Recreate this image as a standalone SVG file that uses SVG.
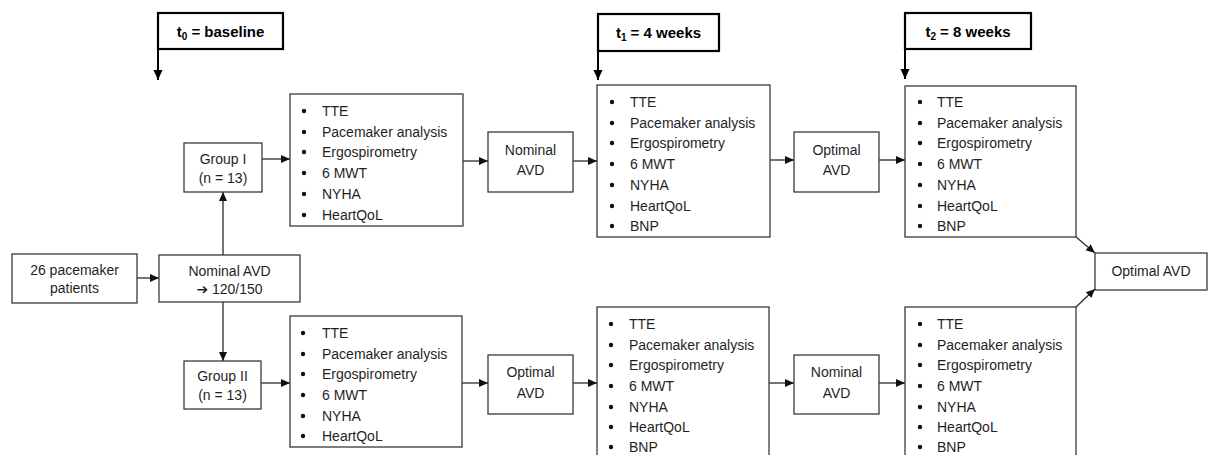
<svg xmlns="http://www.w3.org/2000/svg" width="1208" height="455" viewBox="0 0 1208 455">
<style>
  .box { fill: #ffffff; stroke: #3a3a3a; stroke-width: 1.3; }
  .hdr { fill: #ffffff; stroke: #000000; stroke-width: 2.2; }
  .t { font-family: "Liberation Sans", Arial, sans-serif; font-size: 14px; fill: #1f1f1f; }
  .c { text-anchor: middle; }
  .h { font-family: "Liberation Sans", Arial, sans-serif; font-size: 15px; font-weight: bold; fill: #000; text-anchor: middle; }
  .sub { font-size: 10px; }
  .sym { font-family: "DejaVu Sans", sans-serif; font-size: 14px; }
  .dot { fill: #111; }
  .con { stroke: #2a2a2a; stroke-width: 1.3; fill: none; marker-end: url(#arr); }
  .hcon { stroke: #000; stroke-width: 2; fill: none; marker-end: url(#arrh); }
</style>
<defs>
  <marker id="arr" markerUnits="userSpaceOnUse" markerWidth="9" markerHeight="9" refX="9" refY="4.5" orient="auto">
    <path d="M0,0.5 L9,4.5 L0,8.5 z" fill="#111"/>
  </marker>
  <marker id="arrh" markerUnits="userSpaceOnUse" markerWidth="10" markerHeight="10" refX="10" refY="5" orient="auto">
    <path d="M0,0.5 L10,5 L0,9.5 z" fill="#000"/>
  </marker>
</defs>
<rect width="1208" height="455" fill="#ffffff"/>

<g id="connectors">
  <line class="hcon" x1="158" y1="49" x2="158" y2="80"/>
  <line class="hcon" x1="598" y1="51" x2="598" y2="80"/>
  <line class="hcon" x1="905" y1="49" x2="905" y2="79"/>
  <line class="con" x1="137" y1="278" x2="159" y2="278"/>
  <line class="con" x1="223" y1="255" x2="223" y2="192"/>
  <line class="con" x1="223" y1="302" x2="223" y2="361"/>
  <line class="con" x1="262" y1="159" x2="290" y2="159"/>
  <line class="con" x1="261" y1="383" x2="290" y2="383"/>
  <line class="con" x1="463" y1="161" x2="488" y2="161"/>
  <line class="con" x1="573" y1="161" x2="597" y2="161"/>
  <line class="con" x1="770" y1="160" x2="794" y2="160"/>
  <line class="con" x1="879" y1="160" x2="905" y2="160"/>
  <line class="con" x1="462" y1="383" x2="488" y2="383"/>
  <line class="con" x1="573" y1="383" x2="597" y2="383"/>
  <line class="con" x1="769" y1="383" x2="794" y2="383"/>
  <line class="con" x1="879" y1="383" x2="905" y2="383"/>
  <line class="con" x1="1076" y1="237" x2="1095" y2="253"/>
  <line class="con" x1="1076" y1="307" x2="1095" y2="289"/>
</g>

<g id="hdr-t0">
  <rect class="hdr" x="158" y="13" width="125" height="36"/>
  <text class="h" x="220.5" y="37">t<tspan class="sub" dy="3">0</tspan><tspan dy="-3"> = baseline</tspan></text>
</g>
<g id="hdr-t1">
  <rect class="hdr" x="598" y="14" width="121" height="37"/>
  <text class="h" x="658.5" y="38">t<tspan class="sub" dy="3">1</tspan><tspan dy="-3"> = 4 weeks</tspan></text>
</g>
<g id="hdr-t2">
  <rect class="hdr" x="905" y="13" width="126" height="36"/>
  <text class="h" x="968" y="37">t<tspan class="sub" dy="3">2</tspan><tspan dy="-3"> = 8 weeks</tspan></text>
</g>

<g id="patients">
  <rect class="box" x="12" y="254" width="125" height="49"/>
  <text class="t c" x="74.5" y="275">26 pacemaker</text>
  <text class="t c" x="74.5" y="293">patients</text>
</g>
<g id="nominal-start">
  <rect class="box" x="159" y="255" width="141" height="47"/>
  <text class="t c" x="229.5" y="276">Nominal AVD</text>
  <text class="t c" x="229.5" y="294"><tspan class="sym">➔</tspan> 120/150</text>
</g>
<g id="group1">
  <rect class="box" x="184" y="143" width="78" height="49"/>
  <text class="t c" x="223" y="164">Group I</text>
  <text class="t c" x="223" y="183">(n = 13)</text>
</g>
<g id="group2">
  <rect class="box" x="184" y="361" width="77" height="48"/>
  <text class="t c" x="222.5" y="381">Group II</text>
  <text class="t c" x="222.5" y="400">(n = 13)</text>
</g>

<g id="box1">
  <rect class="box" x="290" y="94" width="173" height="132"/>
  <circle class="dot" cx="304" cy="111" r="2.2"/><text class="t" x="322" y="116">TTE</text>
  <circle class="dot" cx="304" cy="132" r="2.2"/><text class="t" x="322" y="137">Pacemaker analysis</text>
  <circle class="dot" cx="304" cy="152" r="2.2"/><text class="t" x="322" y="157">Ergospirometry</text>
  <circle class="dot" cx="304" cy="173" r="2.2"/><text class="t" x="322" y="178">6 MWT</text>
  <circle class="dot" cx="304" cy="194" r="2.2"/><text class="t" x="322" y="199">NYHA</text>
  <circle class="dot" cx="304" cy="215" r="2.2"/><text class="t" x="322" y="220">HeartQoL</text>
</g>
<g id="nominal1">
  <rect class="box" x="488" y="132" width="85" height="60"/>
  <text class="t c" x="530.5" y="155">Nominal</text>
  <text class="t c" x="530.5" y="175">AVD</text>
</g>
<g id="box2">
  <rect class="box" x="597" y="85" width="173" height="152"/>
  <circle class="dot" cx="612" cy="102" r="2.2"/><text class="t" x="630" y="107">TTE</text>
  <circle class="dot" cx="612" cy="123" r="2.2"/><text class="t" x="630" y="128">Pacemaker analysis</text>
  <circle class="dot" cx="612" cy="143" r="2.2"/><text class="t" x="630" y="148">Ergospirometry</text>
  <circle class="dot" cx="612" cy="164" r="2.2"/><text class="t" x="630" y="169">6 MWT</text>
  <circle class="dot" cx="612" cy="185" r="2.2"/><text class="t" x="630" y="190">NYHA</text>
  <circle class="dot" cx="612" cy="206" r="2.2"/><text class="t" x="630" y="211">HeartQoL</text>
  <circle class="dot" cx="612" cy="226" r="2.2"/><text class="t" x="630" y="231">BNP</text>
</g>
<g id="optimal1">
  <rect class="box" x="794" y="132" width="85" height="60"/>
  <text class="t c" x="836.5" y="155">Optimal</text>
  <text class="t c" x="836.5" y="175">AVD</text>
</g>
<g id="box3">
  <rect class="box" x="905" y="86" width="171" height="151"/>
  <circle class="dot" cx="920" cy="102" r="2.2"/><text class="t" x="937" y="107">TTE</text>
  <circle class="dot" cx="920" cy="123" r="2.2"/><text class="t" x="937" y="128">Pacemaker analysis</text>
  <circle class="dot" cx="920" cy="143" r="2.2"/><text class="t" x="937" y="148">Ergospirometry</text>
  <circle class="dot" cx="920" cy="164" r="2.2"/><text class="t" x="937" y="169">6 MWT</text>
  <circle class="dot" cx="920" cy="185" r="2.2"/><text class="t" x="937" y="190">NYHA</text>
  <circle class="dot" cx="920" cy="206" r="2.2"/><text class="t" x="937" y="211">HeartQoL</text>
  <circle class="dot" cx="920" cy="226" r="2.2"/><text class="t" x="937" y="231">BNP</text>
</g>

<g id="box4">
  <rect class="box" x="290" y="316" width="172" height="131"/>
  <circle class="dot" cx="303" cy="333" r="2.2"/><text class="t" x="322" y="338">TTE</text>
  <circle class="dot" cx="303" cy="354" r="2.2"/><text class="t" x="322" y="359">Pacemaker analysis</text>
  <circle class="dot" cx="303" cy="374" r="2.2"/><text class="t" x="322" y="379">Ergospirometry</text>
  <circle class="dot" cx="303" cy="395" r="2.2"/><text class="t" x="322" y="400">6 MWT</text>
  <circle class="dot" cx="303" cy="416" r="2.2"/><text class="t" x="322" y="421">NYHA</text>
  <circle class="dot" cx="303" cy="436" r="2.2"/><text class="t" x="322" y="441">HeartQoL</text>
</g>
<g id="optimal2">
  <rect class="box" x="488" y="355" width="85" height="59"/>
  <text class="t c" x="530.5" y="377">Optimal</text>
  <text class="t c" x="530.5" y="398">AVD</text>
</g>
<g id="box5">
  <rect class="box" x="597" y="307" width="172" height="152"/>
  <circle class="dot" cx="611" cy="324" r="2.2"/><text class="t" x="629" y="329">TTE</text>
  <circle class="dot" cx="611" cy="345" r="2.2"/><text class="t" x="629" y="350">Pacemaker analysis</text>
  <circle class="dot" cx="611" cy="365" r="2.2"/><text class="t" x="629" y="370">Ergospirometry</text>
  <circle class="dot" cx="611" cy="386" r="2.2"/><text class="t" x="629" y="391">6 MWT</text>
  <circle class="dot" cx="611" cy="407" r="2.2"/><text class="t" x="629" y="412">NYHA</text>
  <circle class="dot" cx="611" cy="427" r="2.2"/><text class="t" x="629" y="432">HeartQoL</text>
  <circle class="dot" cx="611" cy="447" r="2.2"/><text class="t" x="629" y="452">BNP</text>
</g>
<g id="nominal2">
  <rect class="box" x="794" y="355" width="85" height="59"/>
  <text class="t c" x="836.5" y="377">Nominal</text>
  <text class="t c" x="836.5" y="398">AVD</text>
</g>
<g id="box6">
  <rect class="box" x="905" y="307" width="171" height="152"/>
  <circle class="dot" cx="920" cy="324" r="2.2"/><text class="t" x="937" y="329">TTE</text>
  <circle class="dot" cx="920" cy="345" r="2.2"/><text class="t" x="937" y="350">Pacemaker analysis</text>
  <circle class="dot" cx="920" cy="365" r="2.2"/><text class="t" x="937" y="370">Ergospirometry</text>
  <circle class="dot" cx="920" cy="386" r="2.2"/><text class="t" x="937" y="391">6 MWT</text>
  <circle class="dot" cx="920" cy="407" r="2.2"/><text class="t" x="937" y="412">NYHA</text>
  <circle class="dot" cx="920" cy="427" r="2.2"/><text class="t" x="937" y="432">HeartQoL</text>
  <circle class="dot" cx="920" cy="447" r="2.2"/><text class="t" x="937" y="452">BNP</text>
</g>

<g id="optimal-final">
  <rect class="box" x="1095" y="253" width="112" height="37"/>
  <text class="t c" x="1151" y="276">Optimal AVD</text>
</g>
</svg>
